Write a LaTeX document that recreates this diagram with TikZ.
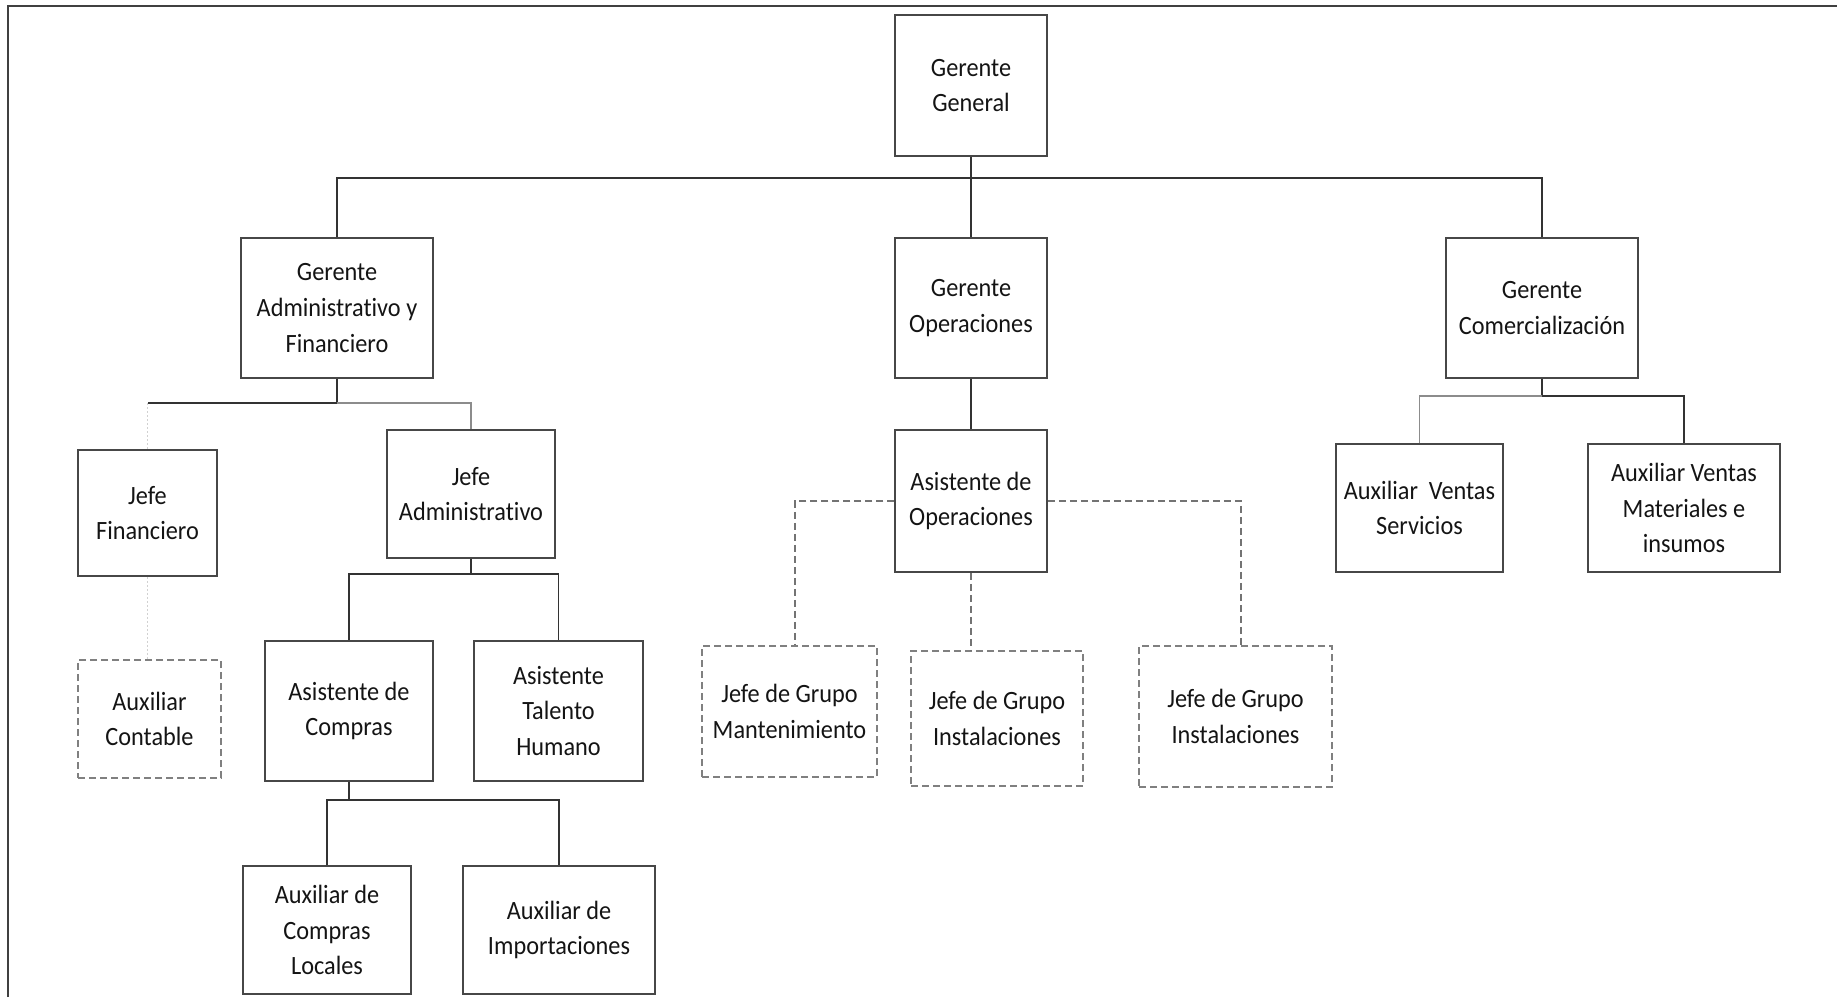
\documentclass[tikz,border=0pt]{standalone}
\usepackage{fontspec}
\setmainfont{Carlito}[FakeStretch=0.92, Ligatures=NoCommon]
\begin{document}
\begin{tikzpicture}[x=0.5pt,y=-0.5pt,
  line width=0.8pt,
  every node/.style={font=\fontsize{13.2pt}{17.8pt}\selectfont, text=black!92},
  box/.style 2 args={draw=black!72, line width=0.75pt, rectangle, inner sep=0pt,
     align=center, minimum width=#1*0.5pt, minimum height=#2*0.5pt},
  dbox/.style 2 args={box={#1}{#2}, draw=black!50, dash pattern=on 3.5pt off 2pt},
  link/.style={draw=black!80, line width=0.8pt},
  lightlink/.style={draw=black!45, line width=0.7pt},
  dlink/.style={draw=black!55, line width=0.7pt, dash pattern=on 3.5pt off 2pt},
  faint/.style={draw=black!18, line width=0.6pt, dash pattern=on 1pt off 1pt}]
\useasboundingbox (0,0) rectangle (1837,997);
% frame
\draw[draw=black!75, line width=1pt] (8,997) -- (8,6) -- (1837,6);

% top level
\node[box={152}{141}] (gg) at (971,85.5) {Gerente\\General};
\node[box={192}{140}] (ga) at (337,308) {Gerente\\Administrativo y\\Financiero};
\node[box={152}{140}] (go) at (971,308) {Gerente\\Operaciones};
\node[box={192}{140}] (gc) at (1542,308) {Gerente\\Comercialización};

% administrative and financial branch
\node[box={139}{126}] (jf) at (147.5,513) {Jefe\\Financiero};
\node[box={168}{128}] (ja) at (471,494) {Jefe\\Administrativo};
\node[dbox={143}{118}] (ac) at (149.5,719) {Auxiliar\\Contable};
\node[box={168}{140}] (acomp) at (349,711) {Asistente de\\Compras};
\node[box={169}{140}] (ath) at (558.5,711) {Asistente\\Talento\\Humano};
\node[box={168}{128}] (acl) at (327,930) {Auxiliar de\\Compras\\Locales};
\node[box={192}{128}] (aim) at (559,930) {Auxiliar de\\Importaciones};

% operations branch
\node[box={152}{142}] (aop) at (971,501) {Asistente de\\Operaciones};
\node[dbox={175}{131}] (jgm) at (789.5,711.5) {Jefe de Grupo\\Mantenimiento};
\node[dbox={172}{135}] (jgi1) at (997,718.5) {Jefe de Grupo\\Instalaciones};
\node[dbox={193}{141}] (jgi2) at (1235.5,716.5) {Jefe de Grupo\\Instalaciones};

% commercial branch
\node[box={167}{128}] (avs) at (1419.5,508) {Auxiliar\ \ Ventas\\Servicios};
\node[box={192}{128}] (avm) at (1684,508) {Auxiliar Ventas\\Materiales e\\insumos};

% junction points
\coordinate (b0) at (971,178);
\coordinate (b1) at (337,403);
\coordinate (b2) at (471,574);
\coordinate (b3) at (349,800);
\coordinate (b4) at (1542,396);
\coordinate (d1) at (795,501);
\coordinate (d2) at (1241,501);

% connectors
\draw[link, line width=1pt] (ga.north) |- (b0) -| (gc.north);
\draw[link] (gg.south) -- (go.north);
\draw[link] (go.south) -- (aop.north);

\draw[link, line width=1pt] (ga.south) -- (b1) -- (jf.north |- b1);
\draw[lightlink] (b1) -| (ja.north);
\draw[faint] (jf.north |- b1) -- (jf.north);
\draw[faint] (jf.south) -- (jf.south |- ac.north);

\draw[link] (ja.south) -- (b2);
\draw[link] (acomp.north) |- (b2) -| (ath.north);
\draw[link] (acomp.south) -- (b3);
\draw[link] (acl.north) |- (b3) -| (aim.north);

\draw[dlink] (aop.west) -- (d1) -- (d1 |- jgm.north);
\draw[dlink] (aop.east) -- (d2) -- (d2 |- jgi2.north);
\draw[dlink] (aop.south) -- (aop.south |- jgi1.north);

\draw[link] (gc.south) -- (b4);
\draw[lightlink] (avs.north) |- (b4);
\draw[link] (b4) -| (avm.north);
\end{tikzpicture}
\end{document}
